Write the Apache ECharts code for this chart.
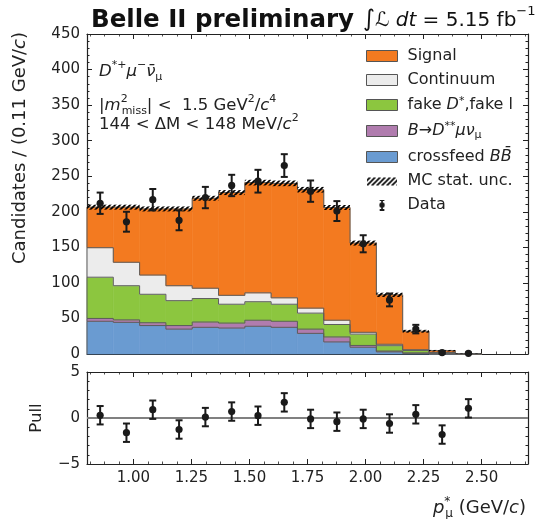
<!DOCTYPE html>
<html>
<head>
<meta charset="utf-8">
<script src="https://cdn.jsdelivr.net/npm/echarts@6/dist/echarts.min.js"></script>
<style>
  html, body { margin: 0; background: #fff; }
  #chart { width: 545px; height: 519px; }
</style>
</head>
<body>
<div id="chart"></div>
<script>
// p*_mu bins: 15 bins from 0.80 to 2.50 GeV/c
const binEdges = [0.8, 0.9133, 1.0267, 1.14, 1.2533, 1.3667, 1.48, 1.5933, 1.7067, 1.82, 1.9333, 2.0467, 2.16, 2.2733, 2.3867, 2.5]

// MC components (own contribution per bin, stacked bottom -> top)
const crossfeed = [46, 44.5, 40, 35, 37.5, 36.5, 39, 37.5, 29, 17, 9.5, 3, 1, 0.3, 0]
const dstarstar = [4, 3.5, 4, 5, 7.5, 7, 8.5, 8.5, 6, 7, 2.5, 1.2, 0.5, 0.1, 0]
const fakeDl = [58, 48, 40, 35, 33, 26.5, 26, 24, 22.5, 17.5, 16, 7.5, 3.5, 1.1, 0.1]
const continuum = [41.5, 33, 27, 21, 14.5, 12.5, 12.5, 9, 7, 6, 2.5, 2, 1, 0.5, 0.1]
const signal = [57, 77.5, 93, 108, 126.5, 144.5, 155, 161, 166.5, 158.5, 125.5, 69.5, 26, 2.7, 0.1]
const mcErr = [3.5, 3.5, 3.5, 3.5, 3.5, 3.5, 4, 4, 4, 3.5, 3.5, 3, 2, 1, 0.3]

// data
const dataY = [212, 186, 217, 188, 220, 237, 243, 265, 229, 201, 155, 76, 35, 2, 1]
const dataErr = [15, 14, 15, 14, 15, 15, 16, 16, 15, 14, 12, 9, 6, 1.5, 1]

// pulls
const pull = [0.3, -1.6, 0.9, -1.25, 0.1, 0.7, 0.25, 1.7, -0.1, -0.4, -0.1, -0.6, 0.4, -1.8, 1.05]
const pullErr = [1, 1, 1, 1, 1, 1, 1, 1, 1, 1, 1, 1, 1, 1, 1]

const xTickLabels = [1.0, 1.25, 1.5, 1.75, 2.0, 2.25, 2.5]

const colors = {
  signal: '#f37a20',
  continuum: '#ececec',
  fake: '#8cc63f',
  dss: '#b07cae',
  cross: '#6a9bd1'
}

const FONT = 'DejaVu Sans'
const INK = '#1a1a1a'

// minor ticks every 0.0625 on x
const xMinor = []
for (let v = 0.8125; v < 2.7; v += 0.0625) xMinor.push(+v.toFixed(4))

// hatch pattern
const hatch = document.createElement('canvas')
hatch.width = 5; hatch.height = 5
{
  const c = hatch.getContext('2d')
  c.strokeStyle = '#000'; c.lineWidth = 1.6
  c.beginPath()
  c.moveTo(-1, 6); c.lineTo(6, -1)
  c.moveTo(-1, 1); c.lineTo(1, -1)
  c.moveTo(4, 6); c.lineTo(6, 4)
  c.stroke()
}
const hatchIcon = document.createElement('canvas')
hatchIcon.width = 30; hatchIcon.height = 11
{
  const c = hatchIcon.getContext('2d')
  c.fillStyle = c.createPattern(hatch, 'repeat')
  c.fillRect(0, 2, 30, 8)
}
const dataIcon = document.createElement('canvas')
dataIcon.width = 30; dataIcon.height = 14
{
  const c = dataIcon.getContext('2d')
  c.strokeStyle = INK; c.fillStyle = INK; c.lineWidth = 2
  c.beginPath()
  c.moveTo(15, 1); c.lineTo(15, 13)
  c.moveTo(12, 1); c.lineTo(18, 1)
  c.moveTo(12, 13); c.lineTo(18, 13)
  c.stroke()
  c.beginPath(); c.arc(15, 7, 3.5, 0, Math.PI * 2); c.fill()
}

// stacking
const comps = [
  ['crossfeed BB̄', colors.cross, crossfeed],
  ['B→D**μνμ', colors.dss, dstarstar],
  ['fake D*,fake l', colors.fake, fakeDl],
  ['Continuum', colors.continuum, continuum],
  ['Signal', colors.signal, signal]
]
let base = crossfeed.map(() => 0)
const stackSeries = []
comps.forEach(([name, color, vals]) => {
  const lo = base.slice()
  const hi = lo.map((b, i) => b + vals[i])
  stackSeries.push(stepSeries(name, color, lo, hi))
  base = hi
})
const mcTotal = base

function stepSeries(name, color, lo, hi) {
  return {
    type: 'custom',
    name,
    xAxisIndex: 0,
    yAxisIndex: 0,
    itemStyle: { color },
    silent: true,
    data: hi.map((t, i) => [binEdges[i], binEdges[i + 1], lo[i], t]),
    renderItem(params, api) {
      const i = params.dataIndex
      const a = api.coord([api.value(0), api.value(3)])
      const b = api.coord([api.value(1), api.value(2)])
      const prev = api.coord([api.value(0), i > 0 ? hi[i - 1] : lo[i]])
      const children = [
        { type: 'rect', shape: { x: a[0], y: a[1], width: b[0] - a[0], height: b[1] - a[1] },
          style: { fill: color, stroke: color, lineWidth: 0.6 } },
        { type: 'polyline', z2: 10, shape: { points: [[a[0], prev[1]], [a[0], a[1]], [b[0], a[1]]] },
          style: { stroke: '#5c5c5c', lineWidth: 1, fill: null } }
      ]
      if (i === hi.length - 1) {
        children.push({ type: 'line', z2: 10, shape: { x1: b[0], y1: a[1], x2: b[0], y2: b[1] },
          style: { stroke: '#5c5c5c', lineWidth: 1 } })
      }
      return { type: 'group', children }
    }
  }
}

function errorBarSeries(name, xi, yi, ys, es) {
  return {
    type: 'custom',
    name,
    xAxisIndex: xi,
    yAxisIndex: yi,
    z: 5,
    silent: true,
    itemStyle: { color: INK },
    data: ys.map((y, i) => [(binEdges[i] + binEdges[i + 1]) / 2, y, es[i]]),
    renderItem(params, api) {
      const x = api.value(0), y = api.value(1), e = api.value(2)
      const c = api.coord([x, y])
      const t = api.coord([x, y + e])
      const b = api.coord([x, y - e])
      const st = { stroke: INK, lineWidth: 2 }
      return {
        type: 'group',
        children: [
          { type: 'line', shape: { x1: c[0], y1: t[1], x2: c[0], y2: b[1] }, style: st },
          { type: 'line', shape: { x1: c[0] - 3.5, y1: t[1], x2: c[0] + 3.5, y2: t[1] }, style: st },
          { type: 'line', shape: { x1: c[0] - 3.5, y1: b[1], x2: c[0] + 3.5, y2: b[1] }, style: st },
          { type: 'circle', shape: { cx: c[0], cy: c[1], r: 3.6 }, style: { fill: INK } }
        ]
      }
    }
  }
}

const hatchSeries = {
  type: 'custom',
  name: 'MC stat. unc.',
  xAxisIndex: 0,
  yAxisIndex: 0,
  z: 4,
  silent: true,
  itemStyle: { color: '#000' },
  data: mcTotal.map((t, i) => [binEdges[i], binEdges[i + 1], t - mcErr[i], t + mcErr[i]]),
  renderItem(params, api) {
    const a = api.coord([api.value(0), api.value(3)])
    const b = api.coord([api.value(1), api.value(2)])
    return { type: 'rect', shape: { x: a[0], y: a[1], width: b[0] - a[0], height: b[1] - a[1] },
      style: { fill: { image: hatch, repeat: 'repeat' } } }
  }
}

const pullSeries = errorBarSeries('Pull', 2, 2, pull, pullErr)
pullSeries.markLine = {
  silent: true, symbol: 'none', label: { show: false },
  lineStyle: { color: '#808080', width: 2, type: 'solid' },
  data: [{ yAxis: 0 }]
}

const frame = { show: true, onZero: false, lineStyle: { color: '#222', width: 1.2 } }
const tickMajor = (vals) => ({ show: true, inside: true, length: 5, customValues: vals, lineStyle: { color: '#222', width: 1 } })
const tickMinor = { show: true, inside: true, length: 2.5, customValues: xMinor, lineStyle: { color: '#222', width: 0.8 } }
const xBase = { type: 'value', min: 0.8, max: 2.7, splitLine: { show: false } }
const txt = { fontFamily: FONT, fontSize: 15, color: '#222' }

const N = { fontFamily: FONT, fontWeight: 'normal', color: '#222' }
const mk = (o) => Object.assign({}, N, o)
const sup = mk({ fontSize: 11, verticalAlign: 'top' })
const sub = mk({ fontSize: 11, verticalAlign: 'bottom', lineHeight: 15 })

const legendNames = {
  'Signal': '{g|}{t|Signal}',
  'Continuum': '{g|}{t|Continuum}',
  'fake D*,fake l': '{g|}{t|fake }{i|D}{sup|*}{t|,fake l}',
  'B→D**μνμ': '{g|}{h2| }{i|B}{t|→}{i|D}{sup|**}{i|μν}{sub|μ}',
  'crossfeed BB̄': '{g|}{h4| }{t|crossfeed }{i|BB̄}',
  'MC stat. unc.': '{g|}{t|MC stat. unc.}',
  'Data': '{g|}{t|Data}'
}

const chart = echarts.init(document.getElementById('chart'), null, { renderer: 'canvas' })

chart.setOption({
  backgroundColor: '#fff',
  animation: false,
  title: [
    {
      left: 86, top: 0,
      text: '{b|Belle II preliminary}{s| }{int|∫}{L|ℒ}{it| dt}{r| = 5.15 fb}{sp|−1}',
      textStyle: {
        fontWeight: 'normal',
        rich: {
          b: mk({ fontWeight: 'bold', fontSize: 24.5, color: '#111', lineHeight: 31 }),
          s: mk({ fontSize: 18, width: 9 }),
          int: mk({ fontSize: 23, fontStyle: 'italic', color: '#111' }),
          L: mk({ fontSize: 20, color: '#111' }),
          it: mk({ fontSize: 20, fontStyle: 'italic', color: '#111' }),
          r: mk({ fontSize: 20, color: '#111' }),
          sp: mk({ fontSize: 13, color: '#111', verticalAlign: 'top' })
        }
      }
    },
    {
      left: 94, top: 55,
      text: '{i|D}{sup|*+}{i|μ}{sup|−}{i|ν̄}{sub|μ}',
      textStyle: { fontWeight: 'normal', rich: {
        i: mk({ fontSize: 16.5, fontStyle: 'italic', lineHeight: 23 }),
        sup, sub
      } }
    },
    {
      left: 94, top: 89,
      text: '{t||}{i|m}{s2|2}{sub|miss}{t|| <  1.5 GeV}{sup|2}{t|/}{i|c}{sup|4}',
      textStyle: { fontWeight: 'normal', rich: {
        t: mk({ fontSize: 16.5, lineHeight: 23 }),
        i: mk({ fontSize: 16.5, fontStyle: 'italic', lineHeight: 23 }),
        s2: mk({ fontSize: 11, verticalAlign: 'top', width: 1 }),
        sup, sub
      } }
    },
    {
      left: 94, top: 108,
      text: '{t|144 < ΔM < 148 MeV/}{i|c}{sup|2}',
      textStyle: { fontWeight: 'normal', rich: {
        t: mk({ fontSize: 16.5, lineHeight: 23 }),
        i: mk({ fontSize: 16.5, fontStyle: 'italic', lineHeight: 23 }),
        sup
      } }
    },
    {
      right: 14, top: 491,
      text: '{i|p}{s2|*}{sub|μ}{t| (GeV/}{i|c}{t|)}',
      textStyle: { fontWeight: 'normal', rich: {
        t: mk({ fontSize: 18, lineHeight: 24 }),
        i: mk({ fontSize: 18, fontStyle: 'italic', lineHeight: 24 }),
        s2: mk({ fontSize: 12, verticalAlign: 'top', width: 1 }),
        sub: mk({ fontSize: 12, verticalAlign: 'bottom', lineHeight: 16 })
      } }
    }
  ],
  legend: {
    orient: 'vertical',
    left: 361, top: 43,
    itemWidth: 31, itemHeight: 11, itemGap: 8,
    selectedMode: false,
    itemStyle: { borderColor: '#555', borderWidth: 1 },
    data: [
      { name: 'Signal', icon: 'rect' },
      { name: 'Continuum', icon: 'rect' },
      { name: 'fake D*,fake l', icon: 'rect' },
      { name: 'B→D**μνμ', icon: 'rect' },
      { name: 'crossfeed BB̄', icon: 'rect' },
      { name: 'MC stat. unc.', icon: 'image://' + hatchIcon.toDataURL() },
      { name: 'Data', icon: 'image://' + dataIcon.toDataURL() }
    ],
    formatter: (n) => legendNames[n],
    textStyle: {
      rich: {
        g: { width: 5 },
        h2: { fontSize: 1, lineHeight: 20 },
        h4: { fontSize: 1, lineHeight: 22 },
        t: mk({ fontSize: 16, lineHeight: 18 }),
        i: mk({ fontSize: 16, fontStyle: 'italic', lineHeight: 18 }),
        sup: mk({ fontSize: 11, verticalAlign: 'top', lineHeight: 10 }),
        sub: mk({ fontSize: 11, verticalAlign: 'bottom', lineHeight: 10 })
      }
    }
  },
  grid: [
    { left: 87, top: 34, right: 17, height: 320 },
    { left: 87, top: 372, right: 17, height: 92 },
    { left: 87, top: 34, right: 17, height: 320 },
    { left: 87, top: 372, right: 17, height: 92 }
  ],
  xAxis: [
    Object.assign({}, xBase, { gridIndex: 0, position: 'bottom', axisLine: frame, axisTick: tickMajor(xTickLabels), axisLabel: { show: false } }),
    Object.assign({}, xBase, { gridIndex: 0, position: 'top', axisLine: frame, axisTick: tickMajor(xTickLabels), axisLabel: { show: false } }),
    Object.assign({}, xBase, { gridIndex: 1, position: 'bottom', axisLine: frame, axisTick: tickMajor(xTickLabels),
      axisLabel: Object.assign({ customValues: xTickLabels, margin: 7, formatter: (v) => v.toFixed(2) }, txt) }),
    Object.assign({}, xBase, { gridIndex: 1, position: 'top', axisLine: frame, axisTick: tickMajor(xTickLabels), axisLabel: { show: false } }),
    Object.assign({}, xBase, { gridIndex: 2, position: 'bottom', axisLine: { show: false }, axisTick: tickMinor, axisLabel: { show: false } }),
    Object.assign({}, xBase, { gridIndex: 2, position: 'top', axisLine: { show: false }, axisTick: tickMinor, axisLabel: { show: false } }),
    Object.assign({}, xBase, { gridIndex: 3, position: 'bottom', axisLine: { show: false }, axisTick: tickMinor, axisLabel: { show: false } }),
    Object.assign({}, xBase, { gridIndex: 3, position: 'top', axisLine: { show: false }, axisTick: tickMinor, axisLabel: { show: false } })
  ],
  yAxis: [
    {
      gridIndex: 0, type: 'value', position: 'left', min: 0, max: 450, interval: 50,
      axisLine: frame,
      axisTick: { show: true, inside: true, length: 5, lineStyle: { color: '#222' } },
      minorTick: { show: true, splitNumber: 5, length: 2.5, lineStyle: { color: '#222' } },
      splitLine: { show: false },
      axisLabel: Object.assign({ margin: 7 }, txt),
      name: 'Candidates / (0.11 GeV/{i|c})',
      nameLocation: 'middle', nameGap: 58,
      nameTextStyle: { fontFamily: FONT, fontSize: 18, color: '#222', padding: [0, 0, 0, 92],
        rich: { i: mk({ fontSize: 18, fontStyle: 'italic' }) } }
    },
    {
      gridIndex: 0, type: 'value', position: 'right', min: 0, max: 450, interval: 50,
      axisLine: frame,
      axisTick: { show: true, inside: true, length: 5, lineStyle: { color: '#222' } },
      minorTick: { show: true, splitNumber: 5, length: 2.5, lineStyle: { color: '#222' } },
      splitLine: { show: false },
      axisLabel: { show: false }
    },
    {
      gridIndex: 1, type: 'value', position: 'left', min: -5, max: 5, interval: 5,
      axisLine: frame,
      axisTick: { show: true, inside: true, length: 5, lineStyle: { color: '#222' } },
      minorTick: { show: true, splitNumber: 5, length: 2.5, lineStyle: { color: '#222' } },
      splitLine: { show: false },
      axisLabel: Object.assign({ margin: 7, formatter: (v) => String(v).replace('-', '−') }, txt),
      name: 'Pull', nameLocation: 'middle', nameGap: 42,
      nameTextStyle: { fontFamily: FONT, fontSize: 16.5, color: '#222' }
    },
    {
      gridIndex: 1, type: 'value', position: 'right', min: -5, max: 5, interval: 5,
      axisLine: frame,
      axisTick: { show: true, inside: true, length: 5, lineStyle: { color: '#222' } },
      minorTick: { show: true, splitNumber: 5, length: 2.5, lineStyle: { color: '#222' } },
      splitLine: { show: false },
      axisLabel: { show: false }
    },
    { gridIndex: 2, type: 'value', show: false, min: 0, max: 1 },
    { gridIndex: 3, type: 'value', show: false, min: 0, max: 1 }
  ],
  series: stackSeries.concat([
    hatchSeries,
    errorBarSeries('Data', 0, 0, dataY, dataErr),
    pullSeries
  ])
})
</script>
</body>
</html>
